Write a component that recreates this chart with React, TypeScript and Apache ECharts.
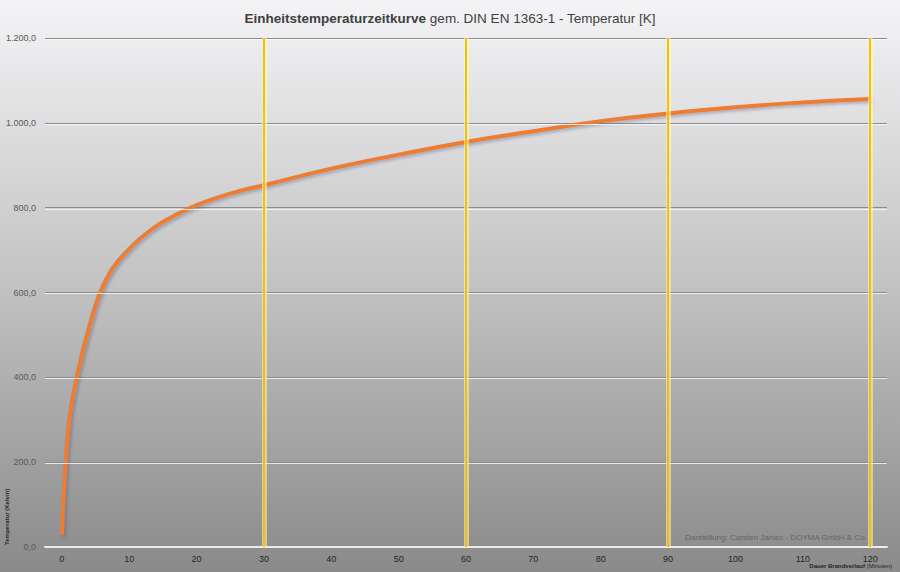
import React, { useEffect, useRef } from "react";
import * as echarts from "echarts";

const minutes = [0, 0.5, 1, 1.5, 2, 3, 4, 5, 6, 7, 8, 10, 13, 16, 20, 25, 30, 40, 50, 60, 70, 80, 90, 100, 110, 120];
const temperature = [28, 190, 288, 343, 385, 455, 516, 570, 612, 643, 667, 703, 745, 775, 806, 833, 853, 892, 925, 955, 980, 1004, 1022, 1037, 1048, 1056];
const xTickValues = [0, 10, 20, 30, 40, 50, 60, 70, 80, 90, 100, 110, 120];
const yTickValues = [200, 400, 600, 800, 1000, 1200];
const markerMinutes = [30, 60, 90, 120];

const titleBold = "Einheitstemperaturzeitkurve";
const titleRest = " gem. DIN EN 1363-1 - Temperatur [K]";
const yName = "Temperatur (Kelvin)";
const xNameBold = "Dauer Brandverlauf";
const xNameRest = " (Minuten)";
const credit = "Darstellung: Carsten Janiec - DOYMA GmbH & Co.";

const FONT = "Liberation Sans";
const HIGHLIGHT_OFFSET = 1.2 * 1200 / 509; // ~1.2px in axis units for the highlight line

function fmtDe(v: number): string {
  const s = Math.round(v).toString();
  const withDots = s.replace(/\B(?=(\d{3})+(?!\d))/g, ".");
  return withDots + ",0";
}

export default function App() {
  const ref = useRef<HTMLDivElement>(null);
  useEffect(() => {
    if (!ref.current) return;
    const chart = echarts.init(ref.current, undefined, { renderer: "svg" });
    const data = minutes.map((m, i) => [m, temperature[i]]);
    const highlightLines = yTickValues.map((v) => ({
      yAxis: v - HIGHLIGHT_OFFSET,
      lineStyle: { color: "rgba(255,255,255,0.75)", width: 1, type: "solid" },
    }));
    const haloLines = markerMinutes.map((m) => ({
      xAxis: m,
      lineStyle: { color: "rgba(255,245,200,0.55)", width: 5, type: "solid" },
    }));
    const yellowLines = markerMinutes.map((m) => ({
      xAxis: m,
      lineStyle: { color: "#f5c000", width: 2, type: "solid" },
    }));
    chart.setOption({
      animation: false,
      backgroundColor: new echarts.graphic.LinearGradient(0, 0, 0, 1, [
        { offset: 0, color: "#f4f4f6" },
        { offset: 0.5, color: "#c2c2c3" },
        { offset: 1, color: "#8a8a8a" },
      ]),
      textStyle: { fontFamily: FONT },
      title: {
        text: "{b|" + titleBold + "}{n|" + titleRest + "}",
        left: "center",
        top: 6,
        textStyle: {
          rich: {
            b: { fontFamily: FONT, fontSize: 13.5, fontWeight: "bold", color: "#404040" },
            n: { fontFamily: FONT, fontSize: 13.5, fontWeight: "normal", color: "#404040" },
          },
        },
      },
      grid: { left: 45, right: 13, top: 38, bottom: 25, containLabel: false },
      xAxis: {
        type: "value",
        min: -2.5,
        max: 122.5,
        axisLine: { show: true, lineStyle: { color: "#ececec", width: 2 } },
        axisTick: { show: false },
        splitLine: { show: false },
        axisLabel: {
          customValues: xTickValues,
          color: "#262626",
          fontSize: 9,
          margin: 7,
          fontFamily: FONT,
        },
      },
      yAxis: {
        type: "value",
        min: 0,
        max: 1200,
        interval: 200,
        axisLine: { show: false },
        axisTick: { show: false },
        axisLabel: {
          formatter: (v: number) => fmtDe(v),
          color: "#595959",
          fontSize: 9,
          margin: 9,
          fontFamily: FONT,
        },
        splitLine: {
          show: true,
          lineStyle: { color: "#8c8c8c", width: 1 },
        },
      },
      series: [
        {
          type: "line",
          data,
          smooth: 0.5,
          showSymbol: false,
          symbol: "none",
          lineStyle: {
            color: "#ed7d31",
            width: 4,
            shadowColor: "rgba(60,80,120,0.35)",
            shadowBlur: 3,
            shadowOffsetX: 2,
            shadowOffsetY: 2,
          },
          markLine: {
            silent: true,
            symbol: "none",
            label: { show: false },
            data: [...highlightLines, ...haloLines, ...yellowLines],
          },
          z: 3,
        },
      ],
      graphic: [
        {
          type: "text",
          x: 10,
          y: 545,
          rotation: Math.PI / 2,
          style: {
            text: yName,
            fontFamily: FONT,
            fontSize: 6,
            fontWeight: "bold",
            fill: "#262626",
            textAlign: "left",
            textVerticalAlign: "bottom",
          },
        },
        {
          type: "text",
          right: 8,
          top: 563,
          style: {
            text: "{b|" + xNameBold + "}{n|" + xNameRest + "}",
            rich: {
              b: { fontFamily: FONT, fontSize: 6, fontWeight: "bold", fill: "#262626" },
              n: { fontFamily: FONT, fontSize: 6, fill: "#262626" },
            },
          },
        },
        {
          type: "text",
          x: 685,
          y: 533,
          style: {
            text: credit,
            fontFamily: FONT,
            fontSize: 8,
            fill: "#666666",
          },
        },
      ],
    });
    return () => chart.dispose();
  }, []);
  return (
    <div
      ref={ref}
      style={{ position: "fixed", left: 0, top: 0, width: 900, height: 572 }}
    />
  );
}
